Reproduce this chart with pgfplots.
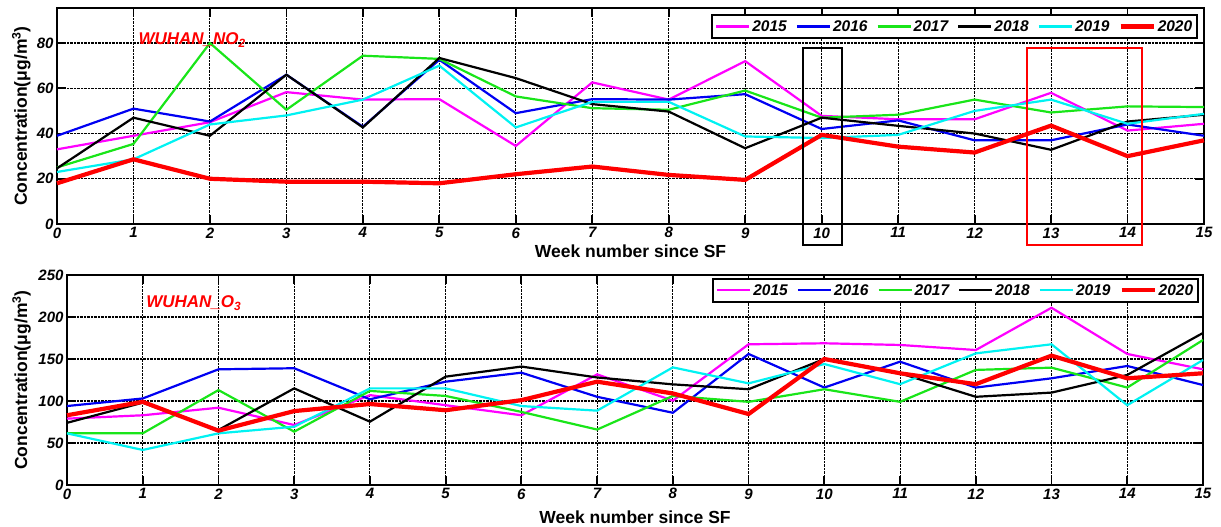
\documentclass[border=0pt]{standalone}
\usepackage{pgfplots}
\pgfplotsset{compat=1.18}
\usepackage{pgfplotstable}
\usepackage{fontspec}
\setmainfont{Liberation Sans}

\definecolor{cmag}{rgb}{1,0,1}
\definecolor{cblue}{rgb}{0,0,0.95}
\definecolor{cgreen}{rgb}{0.1,0.9,0.1}
\definecolor{ccyan}{rgb}{0,0.95,0.95}
\definecolor{cred}{rgb}{1,0,0}

% NO2, weekly means
\pgfplotstableread{
wk y15  y16  y17  y18  y19  y20
0  33   39   25   24.6 23   18
1  39   51   35.4 47   28.6 28.6
2  45   45.3 80   39   44   20
3  58.3 66   50.5 66   48   18.7
4  55   43   74.4 42.7 55   18.7
5  55.2 72.6 73   73.4 70   18
6  34.5 49   56.4 64.5 42.7 22
7  62.6 55.2 51.2 53   54   25.4
8  55   55   50.5 49.7 54   21.7
9  72   57.4 59   33.5 38.7 19.5
10 47.8 42   47   47   38   39.4
11 46.3 45.8 48.3 43.4 39.4 34.2
12 46.3 37   55   40   50   31.6
13 58   37   49.3 32.8 55   43.5
14 41.3 44   52   45.3 44.3 30
15 44.3 39   51.7 48.3 48.7 37
}\notwo

% O3, weekly means
\pgfplotstableread{
wk y15   y16   y17   y18   y19   y20
0  79    94    61.5  74    61.5  83
1  83    103   61.5  98    41.7  99
2  92    137.7 113   65.5  61.5  64.7
3  71.4  139   63.5  115   69.4  88
4  107   102   112   75.4  115   96.4
5  95    123   106   129   115   89
6  83    133.7 87    141   94    101
7  131.7 105   66    128   88.5  123
8  100.4 86    106   119.8 140   109
9  167.5 156   99    114   121   84.5
10 168.7 116   114   150   144   150
11 166.7 146.8 99    133   120   133
12 160.7 116   137   105   156.7 120
13 211   127   139.7 110   167.5 154
14 156   141.7 116   131   95    127
15 137.7 119   172.6 181   148.8 133
}\othree

\pgfplotsset{
  wuhan/.style={
    scale only axis,
    xmin=0, xmax=15, xtick={0,...,15},
    axis line style={line width=1.8pt},
    tick style={line width=1.8pt, black},
    major tick length=9pt,
    tick align=inside, tick pos=both,
    grid=major,
    grid style={densely dotted, black, line width=1.1pt},
    ticklabel style={font=\bfseries\itshape\fontsize{15}{15}\selectfont},
    /pgf/number format/assume math mode=true,
    xlabel={Week number since SF},
    ylabel={Concentration(μg/m\textsuperscript{3})},
    label style={font=\bfseries\fontsize{17.5}{17.5}\selectfont},
    legend columns=6,
    legend image code/.code={\draw[##1] (0pt,0pt) -- (33pt,0pt);},
    legend style={anchor=north east, draw=black, line width=1.6pt,
      font=\bfseries\itshape\fontsize{15.5}{15.5}\selectfont,
      inner xsep=3pt, inner ysep=3.5pt,
      /tikz/every even column/.append style={column sep=7pt}},
    clip=false,
  },
  s15/.style={color=cmag, line width=2.2pt},
  s16/.style={color=cblue, line width=2.2pt},
  s17/.style={color=cgreen, line width=2.2pt},
  s18/.style={color=black, line width=2.2pt},
  s19/.style={color=ccyan, line width=2.2pt},
  s20/.style={color=cred, line width=4.2pt},
}

\begin{document}
\begin{tikzpicture}
\useasboundingbox (0pt,0pt) rectangle (1221pt,527pt);

\begin{axis}[wuhan,
  at={(57pt,303pt)}, anchor=south west,
  width=1147pt, height=216pt,
  ymin=0, ymax=95.5, ytick={0,20,...,80},
  xlabel style={at={(axis description cs:0.5,-0.125)}, anchor=center},
  ylabel style={at={(axis description cs:-0.031,0.5)}, anchor=center},
  legend style={at={(rel axis cs:0.9948,0.972)}},
]
\addplot[s15] table[x=wk,y=y15] {\notwo};
\addplot[s16] table[x=wk,y=y16] {\notwo};
\addplot[s17] table[x=wk,y=y17] {\notwo};
\addplot[s18] table[x=wk,y=y18] {\notwo};
\addplot[s19] table[x=wk,y=y19] {\notwo};
\addplot[s20] table[x=wk,y=y20] {\notwo};
\legend{2015,2016,2017,2018,2019,2020}
\node[anchor=west, text=cred, font=\bfseries\itshape\fontsize{17}{17}\selectfont]
  at (axis cs:1.02,81.4) {WUHAN\_NO\textsubscript{2}};
\draw[black, line width=1.6pt] (axis cs:9.755,77.9) rectangle (axis cs:10.265,-9.3);
\draw[cred, line width=1.6pt] (axis cs:12.685,77.9) rectangle (axis cs:14.19,-9.3);
\end{axis}

\begin{axis}[wuhan,
  at={(67pt,42pt)}, anchor=south west,
  width=1136pt, height=210pt,
  ymin=0, ymax=250, ytick={0,50,...,250},
  xlabel style={at={(axis description cs:0.5,-0.152)}, anchor=center},
  ylabel style={at={(axis description cs:-0.04,0.5)}, anchor=center},
  legend style={at={(rel axis cs:0.9965,0.986)}},
]
\addplot[s15] table[x=wk,y=y15] {\othree};
\addplot[s16] table[x=wk,y=y16] {\othree};
\addplot[s17] table[x=wk,y=y17] {\othree};
\addplot[s18] table[x=wk,y=y18] {\othree};
\addplot[s19] table[x=wk,y=y19] {\othree};
\addplot[s20] table[x=wk,y=y20] {\othree};
\legend{2015,2016,2017,2018,2019,2020}
\node[anchor=west, text=cred, font=\bfseries\itshape\fontsize{17}{17}\selectfont]
  at (axis cs:1.0,216.7) {WUHAN\_O\textsubscript{3}};
\end{axis}
\end{tikzpicture}
\end{document}
